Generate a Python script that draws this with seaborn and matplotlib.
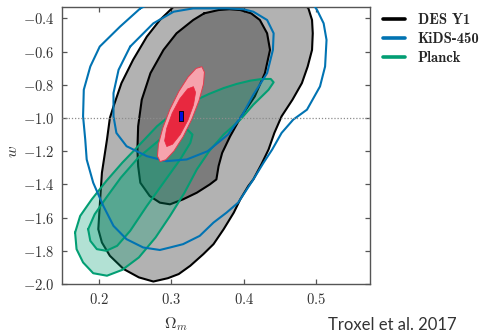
import matplotlib
matplotlib.use("Agg")
import numpy as np
import pandas as pd
import seaborn as sns
import matplotlib.pyplot as plt
from matplotlib.lines import Line2D
from matplotlib.font_manager import FontProperties

# ---------------- data ----------------
x_ticks = [0.2, 0.3, 0.4, 0.5]
x_tick_labels = ["0.2", "0.3", "0.4", "0.5"]
y_ticks = [-2.0, -1.8, -1.6, -1.4, -1.2, -1.0, -0.8, -0.6, -0.4]
y_tick_labels = ["-2.0", "-1.8", "-1.6", "-1.4", "-1.2", "-1.0", "-0.8", "-0.6", "-0.4"]
legend_labels = ["DES Y1", "KiDS-450", "Planck"]

# DES Y1 contours (2-sigma outer, 1-sigma inner)
des_outer_om = [0.303, 0.284, 0.266, 0.247, 0.231, 0.220, 0.215, 0.211, 0.204, 0.201,
                0.199, 0.204, 0.215, 0.234, 0.255, 0.275, 0.295, 0.310, 0.326, 0.344,
                0.358, 0.372, 0.386, 0.395, 0.406, 0.413, 0.424, 0.434, 0.442, 0.452,
                0.467, 0.480, 0.488, 0.494, 0.495, 0.494, 0.489, 0.475, 0.400, 0.320]
des_outer_w = [-0.33, -0.41, -0.51, -0.65, -0.79, -0.93, -1.00, -1.13, -1.33, -1.53,
               -1.67, -1.75, -1.83, -1.91, -1.96, -1.985, -1.965, -1.94, -1.89, -1.82,
               -1.76, -1.67, -1.57, -1.49, -1.41, -1.37, -1.28, -1.19, -1.09, -0.99,
               -0.89, -0.79, -0.69, -0.59, -0.49, -0.41, -0.34, -0.28, -0.24, -0.28]
des_inner_om = [0.345, 0.365, 0.380, 0.395, 0.410, 0.422, 0.432, 0.436, 0.429, 0.415,
                0.395, 0.381, 0.370, 0.365, 0.362, 0.353, 0.335, 0.316, 0.298, 0.284,
                0.270, 0.257, 0.254, 0.253, 0.254, 0.259, 0.271, 0.289, 0.307, 0.330]
des_inner_w = [-0.37, -0.35, -0.345, -0.35, -0.37, -0.41, -0.49, -0.59, -0.73, -0.87,
               -1.00, -1.11, -1.21, -1.29, -1.37, -1.40, -1.45, -1.49, -1.52, -1.51,
               -1.47, -1.39, -1.29, -1.19, -1.05, -0.89, -0.73, -0.59, -0.49, -0.41]

# KiDS-450 contours (lines only)
kids_outer_om = [0.257, 0.229, 0.215, 0.201, 0.188, 0.179, 0.178, 0.181, 0.183, 0.192,
                 0.206, 0.220, 0.238, 0.261, 0.284, 0.298, 0.316, 0.339, 0.358, 0.376,
                 0.392, 0.404, 0.413, 0.427, 0.439, 0.452, 0.468, 0.487, 0.505, 0.512,
                 0.514, 0.510, 0.501, 0.490, 0.400, 0.290]
kids_outer_w = [-0.34, -0.45, -0.51, -0.57, -0.69, -0.83, -0.99, -1.13, -1.25, -1.39,
                -1.53, -1.65, -1.73, -1.78, -1.795, -1.78, -1.76, -1.71, -1.63, -1.57,
                -1.51, -1.43, -1.37, -1.27, -1.19, -1.09, -1.01, -0.95, -0.81, -0.69,
                -0.53, -0.43, -0.35, -0.28, -0.22, -0.27]
kids_inner_om = [0.243, 0.227, 0.220, 0.220, 0.224, 0.238, 0.266, 0.293, 0.321, 0.350,
                 0.378, 0.398, 0.413, 0.432, 0.440, 0.441, 0.432, 0.413, 0.399, 0.376,
                 0.330, 0.303, 0.275]
kids_inner_w = [-0.57, -0.71, -0.85, -0.99, -1.09, -1.17, -1.23, -1.26, -1.25, -1.20,
                -1.10, -0.98, -0.86, -0.73, -0.59, -0.49, -0.41, -0.36, -0.345, -0.34,
                -0.34, -0.36, -0.43]

# Planck contours
planck_outer_om = [0.167, 0.174, 0.190, 0.210, 0.232, 0.254, 0.280, 0.305, 0.330, 0.352,
                   0.372, 0.390, 0.409, 0.425, 0.437, 0.441, 0.434, 0.413, 0.395, 0.372,
                   0.352, 0.335, 0.318, 0.298, 0.278, 0.255, 0.232, 0.211, 0.192, 0.178,
                   0.169]
planck_outer_w = [-1.69, -1.59, -1.49, -1.38, -1.27, -1.17, -1.05, -0.96, -0.90, -0.855,
                  -0.82, -0.795, -0.775, -0.765, -0.765, -0.785, -0.83, -0.92, -1.01, -1.10,
                  -1.20, -1.31, -1.45, -1.59, -1.72, -1.84, -1.915, -1.95, -1.935, -1.87,
                  -1.79]
planck_inner_om = [0.185, 0.188, 0.197, 0.210, 0.225, 0.243, 0.266, 0.289, 0.312, 0.326,
                   0.329, 0.322, 0.310, 0.284, 0.254, 0.230, 0.210, 0.194]
planck_inner_w = [-1.67, -1.74, -1.79, -1.80, -1.77, -1.68, -1.53, -1.39, -1.25, -1.15,
                  -1.10, -1.07, -1.07, -1.13, -1.24, -1.36, -1.48, -1.58]

# Combined (red) contours
comb_outer_om = [0.3419, 0.3455, 0.3442, 0.3381, 0.3283, 0.3161, 0.3034, 0.2923,
                 0.2843, 0.2807, 0.2820, 0.2881, 0.2979, 0.3101, 0.3228, 0.3339]
comb_outer_w = [-0.6911, -0.7239, -0.7953, -0.8941, -1.0057, -1.1129, -1.1991, -1.2517,
                -1.2623, -1.2295, -1.1581, -1.0593, -0.9477, -0.8405, -0.7543, -0.7017]
comb_inner_om = [0.3303, 0.3333, 0.3305, 0.3228, 0.3121, 0.3015, 0.2935, 0.2905,
                 0.2933, 0.3010, 0.3117, 0.3223]
comb_inner_w = [-0.8113, -0.8460, -0.9198, -1.0128, -1.1002, -1.1584, -1.1721, -1.1374,
                -1.0636, -0.9706, -0.8832, -0.8250]

best_om = [0.313]
best_w = [-0.99]
w_ref = -1.0

# ---------------- style ----------------
sns.set_theme(style="ticks")
pal = sns.color_palette("colorblind")
c_blue, c_green = pal[0], pal[2]
plt.rcParams.update({
    "mathtext.fontset": "cm",
    "font.family": ["DejaVu Serif", "DejaVu Sans"],
    "axes.edgecolor": "#555555",
    "axes.linewidth": 1.0,
    "xtick.direction": "in",
    "ytick.direction": "in",
    "xtick.top": True,
    "ytick.right": True,
    "xtick.color": "#555555",
    "ytick.color": "#555555",
    "xtick.labelcolor": "#333333",
    "ytick.labelcolor": "#333333",
})

fig = plt.figure(figsize=(4.85, 3.33), dpi=100)
ax = fig.add_axes([0.1272, 0.1471, 0.6357, 0.8327])


def closed(om, w):
    return list(om) + [om[0]], list(w) + [w[0]]


def outline(om, w, color, lw, z):
    xo, yo = closed(om, w)
    sns.lineplot(x=xo, y=yo, sort=False, estimator=None, color=color,
                 lw=lw, ax=ax, zorder=z)
    ax.lines[-1].set_solid_joinstyle("round")


# DES Y1 filled
ax.fill(des_outer_om, des_outer_w, color="black", alpha=0.3, lw=0, zorder=1)
ax.fill(des_inner_om, des_inner_w, color="black", alpha=0.3, lw=0, zorder=1)
outline(des_outer_om, des_outer_w, "black", 1.5, 2)
outline(des_inner_om, des_inner_w, "black", 1.5, 2)

# Planck filled
ax.fill(planck_outer_om, planck_outer_w, color=c_green, alpha=0.3, lw=0, zorder=3)
ax.fill(planck_inner_om, planck_inner_w, color=c_green, alpha=0.3, lw=0, zorder=3)
outline(planck_outer_om, planck_outer_w, c_green, 1.5, 4)
outline(planck_inner_om, planck_inner_w, c_green, 1.5, 4)

# KiDS lines
outline(kids_outer_om, kids_outer_w, c_blue, 1.5, 5)
outline(kids_inner_om, kids_inner_w, c_blue, 1.5, 5)

# reference line
ax.axhline(w_ref, color="#8c8c8c", ls=(0, (1, 1.5)), lw=0.9, zorder=6)

# combined contours
ax.fill(comb_outer_om, comb_outer_w, facecolor="#f6a3ad", edgecolor="#e33a4c",
        lw=0.7, zorder=7)
ax.fill(comb_inner_om, comb_inner_w, facecolor="#e8283f", edgecolor="#e8283f",
        lw=0.5, zorder=8)
rect = [(-0.55, -1), (0.55, -1), (0.55, 1), (-0.55, 1), (-0.55, -1)]
ax.plot(best_om, best_w, ls="none", marker=rect, ms=6.5, mfc="#0010e0",
        mec="black", mew=0.6, zorder=9)

ax.set_xlim(0.1485, 0.574)
ax.set_ylim(-2.0, -0.33)
ax.set_xticks(x_ticks, [f"${t}$" for t in x_tick_labels])
ax.set_yticks(y_ticks, [f"${t}$" for t in y_tick_labels])
ax.tick_params(axis="both", length=3.5, width=0.9, labelsize=10.5)
ax.tick_params(axis="x", pad=6)
ax.tick_params(axis="y", pad=5)

ax.set_xlabel(r"$\Omega_m$", fontsize=11.5, color="#333333")
ax.xaxis.set_label_coords(0.37, -0.112)
ax.set_ylabel(r"$w$", fontsize=11.5, color="#333333")
ax.yaxis.set_label_coords(-0.132, 0.477)

handles = [Line2D([], [], color=c, lw=2.6) for c in ["black", c_blue, c_green]]
fig.legend(handles, legend_labels, loc="upper left", bbox_to_anchor=(0.789, 0.962),
           frameon=False, prop=FontProperties(family=["cmb10", "DejaVu Serif"], size=10.5),
           handlelength=1.5, handletextpad=0.9, labelspacing=0.35,
           borderpad=0, borderaxespad=0)

fig.text(0.942, 0.009, "Troxel et al. 2017", ha="right", va="baseline",
         fontsize=12, family=["Lato", "DejaVu Sans"], color="#333333")

fig.savefig("out.png", dpi=100)
